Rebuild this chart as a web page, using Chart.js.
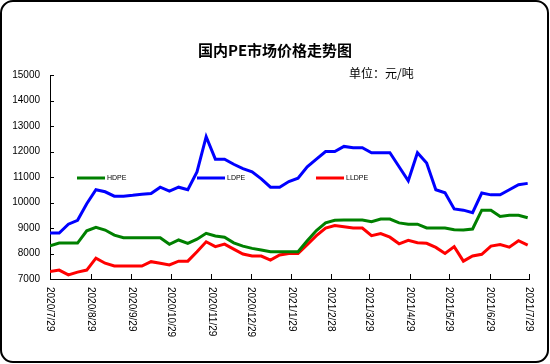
<!DOCTYPE html>
<html>
<head>
<meta charset="utf-8">
<script src="https://cdn.jsdelivr.net/npm/chart.js@4.4.0/dist/chart.umd.min.js"></script>
<style>
    html, body { margin: 0; padding: 0; background: #fff; }
</style>
</head>
<body>
<canvas id="peChart" width="550" height="364"></canvas>
<script>
// 国内PE市场价格走势图 - weekly prices, 元/吨

const tickLabels = ['2020/7/29', '2020/8/29', '2020/9/29', '2020/10/29', '2020/11/29', '2020/12/29',
    '2021/1/29', '2021/2/28', '2021/3/29', '2021/4/29', '2021/5/29', '2021/6/29', '2021/7/29'];

const hdpe = [8300, 8410, 8410, 8410, 8890, 9030, 8920, 8720, 8620, 8620, 8620, 8620, 8620, 8360,
    8530, 8400, 8560, 8790, 8690, 8640, 8420, 8290, 8200, 8140, 8070, 8070, 8070, 8070, 8500, 8900,
    9200, 9300, 9310, 9310, 9310, 9250, 9350, 9350, 9200, 9150, 9150, 9000, 9000, 9000, 8930, 8920,
    8960, 9700, 9700, 9450, 9500, 9500, 9400];

const ldpe = [8800, 8800, 9150, 9300, 9950, 10500, 10420, 10250, 10250, 10280, 10320, 10350, 10600,
    10450, 10600, 10500, 11200, 12580, 11700, 11700, 11500, 11330, 11200, 10930, 10600, 10600, 10820,
    10950, 11400, 11700, 12000, 12000, 12200, 12150, 12150, 11950, 11950, 11950, 11400, 10850, 11950,
    11550, 10500, 10380, 9750, 9700, 9600, 10370, 10300, 10300, 10500, 10700, 10750];

const lldpe = [7290, 7350, 7160, 7270, 7350, 7820, 7620, 7510, 7510, 7510, 7510, 7680, 7620, 7550,
    7700, 7700, 8070, 8460, 8270, 8370, 8170, 7980, 7900, 7900, 7740, 7940, 8000, 8000, 8350, 8700,
    9000, 9100, 9050, 9000, 9000, 8700, 8780, 8640, 8380, 8520, 8420, 8400, 8240, 8000, 8270, 7700,
    7900, 7970, 8290, 8350, 8250, 8500, 8330];

const yTicks = [7000, 8000, 9000, 10000, 11000, 12000, 13000, 14000, 15000];

// days since first label
function dayOf(label) {
    const p = label.split('/').map(Number);
    const t0 = tickLabels[0].split('/').map(Number);
    return (Date.UTC(p[0], p[1] - 1, p[2]) - Date.UTC(t0[0], t0[1] - 1, t0[2])) / 86400000;
}
const tickDays = tickLabels.map(dayOf);
const weekDays = hdpe.map((v, i) => i * 7);   // one reading per week

function toPoints(values) {
    return values.map((v, i) => ({ x: weekDays[i], y: v }));
}

const series = [
    { label: 'HDPE', data: hdpe, color: '#008000', legendX: 77 },
    { label: 'LDPE', data: ldpe, color: '#0000ff', legendX: 197 },
    { label: 'LLDPE', data: lldpe, color: '#ff0000', legendX: 316 }
];

const decorPlugin = {
    id: 'decor',
    beforeDraw(chart) {
        const ctx = chart.ctx;
        ctx.save();
        ctx.fillStyle = '#fff';
        ctx.fillRect(0, 0, chart.width, chart.height);
        ctx.strokeStyle = '#000';
        ctx.lineWidth = 2;
        ctx.beginPath();
        ctx.roundRect(1, 1, chart.width - 3, chart.height - 3, 12);
        ctx.stroke();
        ctx.restore();
    },
    afterDraw(chart) {
        const ctx = chart.ctx;
        const area = chart.chartArea;
        const xs = chart.scales.x, ys = chart.scales.y;
        ctx.save();

        // title + unit
        ctx.fillStyle = '#000';
        ctx.textBaseline = 'middle';
        ctx.textAlign = 'center';
        ctx.font = 'bold 15px "Noto Sans CJK SC"';
        ctx.fillText('国内PE市场价格走势图', 275, 50);
        ctx.textAlign = 'left';
        ctx.font = '12px "Noto Sans CJK SC"';
        ctx.fillText('单位：元/吨', 349, 73);

        // inward tick marks
        ctx.strokeStyle = '#000';
        ctx.lineWidth = 1;
        ctx.beginPath();
        yTicks.forEach(v => {
            const y = Math.round(ys.getPixelForValue(v)) + 0.5;
            ctx.moveTo(area.left, y);
            ctx.lineTo(area.left + 4, y);
        });
        tickDays.forEach(d => {
            const x = Math.round(xs.getPixelForValue(d)) + 0.5;
            ctx.moveTo(x, area.bottom);
            ctx.lineTo(x, area.bottom - 5);
        });
        ctx.stroke();

        // date labels, rotated clockwise
        ctx.font = '10px "Liberation Sans"';
        ctx.textAlign = 'left';
        ctx.textBaseline = 'middle';
        tickDays.forEach((d, i) => {
            ctx.save();
            ctx.translate(xs.getPixelForValue(d), area.bottom + 8);
            ctx.rotate(Math.PI / 2);
            ctx.fillText(tickLabels[i], 0, 0);
            ctx.restore();
        });

        // legend inside the plot
        ctx.font = '7px "Liberation Sans"';
        series.forEach(s => {
            ctx.strokeStyle = s.color;
            ctx.lineWidth = 3;
            ctx.beginPath();
            ctx.moveTo(s.legendX, 178);
            ctx.lineTo(s.legendX + 28, 178);
            ctx.stroke();
            ctx.fillStyle = '#000';
            ctx.fillText(s.label, s.legendX + 30, 178);
        });
        ctx.restore();
    }
};

new Chart(document.getElementById('peChart'), {
    type: 'line',
    data: {
        datasets: series.map(s => ({
            label: s.label,
            data: toPoints(s.data),
            borderColor: s.color,
            backgroundColor: s.color,
            borderWidth: 3,
            pointRadius: 0,
            tension: 0
        }))
    },
    options: {
        responsive: false,
        animation: false,
        devicePixelRatio: 1,
        layout: { padding: { top: 75, right: 21, bottom: 0, left: 0 } },
        plugins: {
            legend: { display: false },
            title: { display: false },
            tooltip: { enabled: false }
        },
        scales: {
            x: {
                type: 'linear',
                min: 0,
                max: 365,
                grid: { display: false, drawTicks: false },
                border: { display: true, color: '#000', width: 1 },
                ticks: { display: false },
                afterBuildTicks: s => { s.ticks = tickDays.map(v => ({ value: v })); },
                afterFit: s => { s.height = 85; }
            },
            y: {
                min: 7000,
                max: 15000,
                grid: { display: false, drawTicks: false },
                border: { display: true, color: '#000', width: 1 },
                ticks: {
                    stepSize: 1000,
                    padding: 10,
                    color: '#000',
                    font: { family: 'Liberation Sans', size: 10 },
                    callback: (value) => String(value)
                },
                afterFit: s => { s.width = 50; }
            }
        }
    },
    plugins: [decorPlugin]
});
</script>
</body>
</html>
